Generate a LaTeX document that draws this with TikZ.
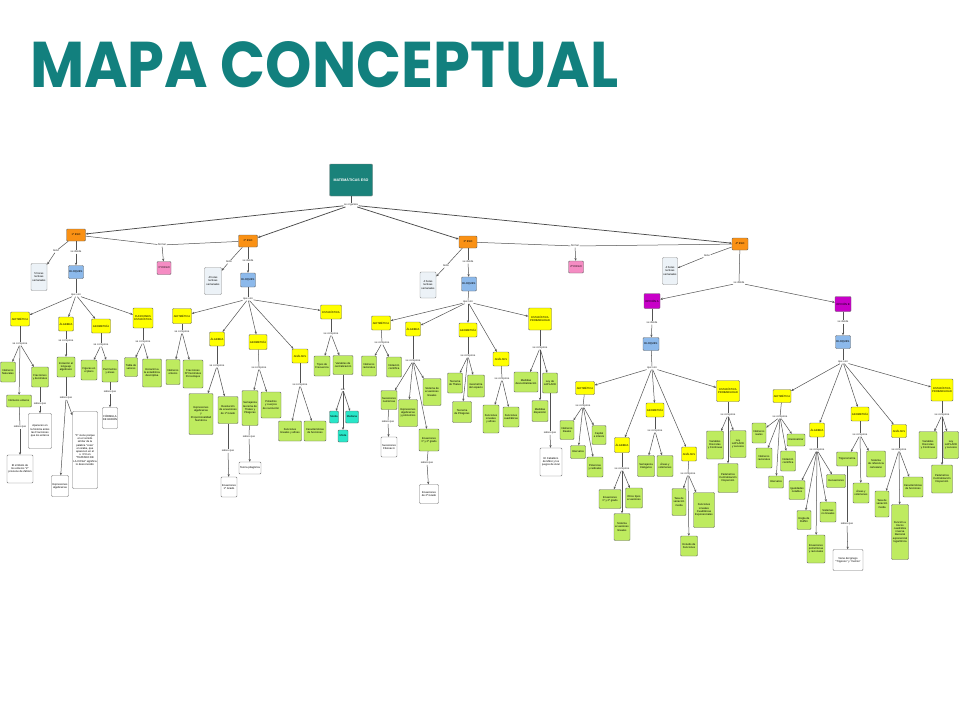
\documentclass[tikz,border=0pt]{standalone}
\usepackage{fontspec}
\usepackage{graphicx}
\setmainfont{Liberation Sans}
\newfontfamily\titlefont{Poppins}
\usetikzlibrary{arrows.meta}
\definecolor{titlecol}{RGB}{18,128,126}
\definecolor{rootcol}{RGB}{26,130,122}
\definecolor{orng}{RGB}{250,145,20}
\definecolor{pnk}{RGB}{245,140,195}
\definecolor{hrs}{RGB}{236,242,247}
\definecolor{blu}{RGB}{140,185,235}
\definecolor{yel}{RGB}{255,255,0}
\definecolor{grn}{RGB}{190,235,95}
\definecolor{cyn}{RGB}{40,230,200}
\definecolor{mag}{RGB}{200,0,200}
\tikzset{
  ln/.style={draw=black!68, line width=0.5pt},
  lnb/.style={line width=0.75pt, draw=black!70},
  ar/.style={ln, -{Stealth[length=2.6pt,width=2.2pt]}},
  lk/.style={font=\fontsize{2.7}{3.2}\selectfont, fill=white, inner sep=0.5pt, text=black!85},
  bx/.style={rounded corners=1pt, draw=black!60, line width=0.4pt, font=\fontsize{2.7}{3.2}\selectfont, align=center, inner sep=0.4pt},
  sz/.style 2 args={minimum width=#1pt, minimum height=#2pt},
  gr/.style={bx, fill=grn},
  ye/.style={bx, fill=yel},
  wh/.style={bx, fill=white, draw=black!55},
  hr/.style={bx, fill=hrs, draw=black!45},
  bl/.style={bx, fill=blu},
  es/.style={bx, fill=orng},
  pk/.style={bx, fill=pnk},
  cy/.style={bx, fill=cyn},
  op/.style={bx, fill=mag},
}
\newcommand\cmlink[4][]{\draw[ln,#1] (#2) -- (#3); \foreach \t in {#4} {\draw[ar,#1] (#3) -- (\t);}}
\begin{document}
\begin{tikzpicture}[x=1pt,y=-1pt]
\useasboundingbox (0,0) rectangle (960,720);
\fill[white] (0,0) rectangle (960,720);
% title
\node[anchor=south west, inner sep=0, text=titlecol] (title) at (30,88) {\resizebox{588pt}{46pt}{\titlefont\bfseries MAPA CONCEPTUAL}};
% root
\node[bx, fill=rootcol, draw=black!50, sz={43}{32}, text=white, font=\fontsize{3.6}{4}\selectfont\bfseries] (R) at (351,180) {MATEMÁTICAS ESO};
\node[lk] (Lorg) at (351,205) {se organiza};
\node[es, sz={19}{12}] (E1) at (76,235) {1º ESO};
\node[es, sz={19}{12}] (E2) at (248,241) {2º ESO};
\node[es, sz={18}{12}] (E3) at (468,242) {3º ESO};
\node[es, sz={16}{12}] (E4) at (740,244) {4º ESO};
\cmlink[lnb]{R}{Lorg}{E1,E2,E3,E4}
\node[lk] (Lf1) at (162,245) {formar};
\node[pk, sz={14}{13}] (C1) at (164,268) {1º CICLO};
\draw[ln] (E1) -- (Lf1); \draw[ln] (E2) -- (Lf1); \draw[ar] (Lf1) -- (C1);
\node[lk] (Lf2) at (575,246) {formar};
\node[pk, sz={15}{12}] (C2) at (576,267) {2º CICLO};
\draw[ln] (E3) -- (Lf2); \draw[ln] (E4) -- (Lf2); \draw[ar] (Lf2) -- (C2);

% ===== 1º ESO =====
\node[lk] (Lt1) at (56,251) {tiene};
\node[hr, sz={16}{27}] (H1) at (39,277) {5 horas\\lectivas\\semanales};
\node[lk] (Ld1) at (76,252) {se divide};
\node[bl, sz={15}{13}] (B1) at (76,272) {BLOQUES};
\cmlink{E1}{Lt1}{H1}
\cmlink{E1}{Ld1}{B1}
\node[lk] (Lq1) at (76,295) {que son};
\node[ye, sz={19}{14}] (A1) at (20,319) {ARITMÉTICA};
\node[ye, sz={15}{14}] (L1) at (66,324) {ÁLGEBRA};
\node[ye, sz={19}{14}] (G1) at (101,326) {GEOMETRÍA};
\node[ye, sz={20}{20}] (F1) at (143,318) {FUNCIONES\\ESTADÍSTICA};
\cmlink{B1}{Lq1}{A1,L1,G1,F1}
\node[lk] (A1c) at (20,344) {se compone};
\node[gr, sz={15}{20}] (a1) at (8,372) {Números\\Naturales};
\node[gr, sz={17}{20}] (a2) at (40,377) {Fracciones\\y decimales};
\node[gr, sz={25}{12}] (a3) at (19,401) {Números enteros};
\cmlink{A1}{A1c}{a1,a2,a3}
\node[lk] (a2s) at (40,404) {sabes que};
\node[wh, sz={23}{35}] (a2w) at (40,431) {Aparecen en\\la historia antes\\las Fracciones\\que los enteros};
\cmlink{a2}{a2s}{a2w}
\node[lk] (a3s) at (20,427) {sabes que};
\node[wh, sz={26}{28}] (a3w) at (20,469) {El símbolo de\\los enteros "Z"\\proviene de Zahlen};
\cmlink{a3}{a3s}{a3w}
\node[lk] (L1c) at (66,341) {se compone};
\node[gr, sz={18}{20}] (l1) at (66,367) {Iniciación al\\lenguaje\\algebraico};
\cmlink{L1}{L1c}{l1}
\node[lk] (l1s) at (66,398) {sabes que};
\node[wh, sz={17}{21}] (l1w1) at (60,486) {Expresiones\\algebraicas};
\node[wh, sz={25}{77}] (l1w2) at (85,450) {"X" viene porque\\en el sonido\\similar de la\\palabra "cosa"\\en árabe, que\\aparecen en el\\s. XVI en\\"TRATADO DE\\LA COSA" significa\\lo desconocido};
\cmlink{l1}{l1s}{l1w1,l1w2}
\node[lk] (G1c) at (101,345) {se compone};
\node[gr, sz={16}{20}] (g1) at (89,370) {Figuras en\\el plano};
\node[gr, sz={16}{22}] (g2) at (110,371) {Perímetros\\y áreas};
\cmlink{G1}{G1c}{g1,g2}
\node[lk] (g2s) at (110,392) {sabes que};
\node[wh, sz={15}{21}] (g2w) at (110,418) {FÓRMULA\\DE HERÓN};
\cmlink{g2}{g2s}{g2w}
\node[lk] (F1c) at (143,342) {se compone};
\node[gr, sz={13}{19}] (f1) at (131,367) {Tabla de\\valores};
\node[gr, sz={19}{28}] (f2) at (152,373) {Iniciación a\\la estadística\\descriptiva};
\cmlink{F1}{F1c}{f1,f2}

% ===== 2º ESO =====
\node[lk] (Lt2) at (229,262) {tiene};
\node[hr, sz={17}{27}] (H2) at (213,281) {4 horas\\lectivas\\semanales};
\node[lk] (Ld2) at (248,261) {se divide};
\node[bl, sz={15}{14}] (B2) at (248,280) {BLOQUES};
\cmlink{E2}{Lt2}{H2}
\cmlink{E2}{Ld2}{B2}
\node[lk] (Lq2) at (248,299) {que son};
\node[ye, sz={19}{15}] (A2) at (182,316) {ARITMÉTICA};
\node[ye, sz={15}{14}] (L2) at (217,339) {ÁLGEBRA};
\node[ye, sz={18}{15}] (G2) at (258,342) {GEOMETRÍA};
\node[ye, sz={16}{14}] (N2) at (300,356) {ANÁLISIS};
\node[ye, sz={21}{14}] (S2) at (331,312) {ESTADÍSTICA};
\cmlink{B2}{Lq2}{A2,L2,G2,N2,S2}
\node[lk] (A2c) at (182,332) {se compone};
\node[gr, sz={14}{25}] (a21) at (173,372) {Números\\enteros};
\node[gr, sz={20}{28}] (a22) at (193,374) {Fracciones\\Nº Decimales\\Porcentajes};
\cmlink{A2}{A2c}{a21,a22}
\node[lk] (L2c) at (217,366) {se compone};
\node[gr, sz={24}{41}] (l21) at (201,414) {Expresiones\\algebraicas\\y\\Proporcionalidad\\Numérica};
\node[gr, sz={20}{27}] (l22) at (228,410) {Resolución\\de ecuaciones\\de 1º Grado};
\cmlink{L2}{L2c}{l21,l22}
\node[lk] (l22s) at (228,451) {sabes que};
\node[wh, sz={16}{20}] (l22w) at (229,487) {Ecuaciones\\1º Grado};
\cmlink{l22}{l22s}{l22w}
\node[lk] (G2c) at (259,368) {se compone};
\node[gr, sz={16}{35}] (g21) at (250,408) {Semejanza\\teorema de\\Thales y\\Pitágoras};
\node[gr, sz={20}{26}] (g22) at (271,405) {Poliedros\\y cuerpos\\de revolución};
\cmlink{G2}{G2c}{g21,g22}
\node[lk] (g21s) at (249,437) {sabes que};
\node[wh, sz={22}{12}] (g21w) at (250,468) {Teoría pitagórica};
\cmlink{g21}{g21s}{g21w}
\node[lk] (N2c) at (300,385) {se compone};
\node[gr, sz={23}{20}] (n21) at (290,431) {Funciones\\lineales y afines};
\node[gr, sz={22}{20}] (n22) at (315,431) {Características\\de funciones};
\cmlink{N2}{N2c}{n21,n22}
\node[lk] (S2c) at (331,334) {se compone};
\node[gr, sz={16}{20}] (s21) at (322,366) {Tipos de\\Frecuencia};
\node[gr, sz={20}{19}] (s22) at (343,365) {Variables de\\centralización};
\cmlink{S2}{S2c}{s21,s22}
\node[lk] (s22s) at (343,390) {son};
\node[cy, sz={9}{12}] (m1) at (334,417) {Media};
\node[cy, sz={10}{12}] (m2) at (343,436) {Moda};
\node[cy, sz={13}{12}] (m3) at (352,417) {Mediana};
\cmlink{s22}{s22s}{m1,m2,m3}

% ===== 3º ESO =====
\node[lk] (Lt3) at (446,266) {tiene};
\node[hr, sz={16}{26}] (H3) at (428,285) {4 horas\\lectivas\\semanales};
\node[lk] (Ld3) at (468,262) {se divide};
\node[bl, sz={15}{14}] (B3) at (469,284) {BLOQUES};
\cmlink{E3}{Lt3}{H3}
\cmlink{E3}{Ld3}{B3}
\node[lk] (Lq3) at (468,302) {que son};
\node[ye, sz={19}{14}] (A3) at (381,323) {ARITMÉTICA};
\node[ye, sz={15}{14}] (L3) at (413,329) {ÁLGEBRA};
\node[ye, sz={18}{14}] (G3) at (468,330) {GEOMETRÍA};
\node[ye, sz={16}{14}] (N3) at (501,359) {ANÁLISIS};
\node[ye, sz={23}{22}] (S3) at (540,319) {ESTADÍSTICA\\PROBABILIDAD};
\cmlink{B3}{Lq3}{A3,L3,G3,N3,S3}
\node[lk] (A3c) at (382,343) {se compone};
\node[gr, sz={15}{20}] (a31) at (369,366) {Números\\racionales};
\node[gr, sz={15}{20}] (a32) at (394,367) {Notación\\científica};
\cmlink{A3}{A3c}{a31,a32}
\node[lk] (L3c) at (413,361) {se compone};
\node[gr, sz={16}{19}] (l31) at (389,400) {Sucesiones\\numéricas};
\node[gr, sz={19}{27}] (l32) at (408,413) {Expresiones\\algebraicas\\y polinomios};
\node[gr, sz={18}{27}] (l33) at (432,392) {Sistema de\\ecuaciones\\lineales};
\node[gr, sz={20}{22}] (l34) at (429,440) {Ecuaciones\\1º y 2º grado};
\cmlink{L3}{L3c}{l31,l32,l33,l34}
\node[lk] (l31s) at (388,422) {sabes que};
\node[wh, sz={16}{20}] (l31w) at (389,447) {Sucesiones\\Fibonacci};
\cmlink{l31}{l31s}{l31w}
\node[lk] (l34s) at (427,463) {sabes que};
\node[wh, sz={19}{19}] (l34w) at (429,494) {Ecuaciones\\de 2º Grado};
\cmlink{l34}{l34s}{l34w}
\node[lk] (G3c) at (468,356) {se compone};
\node[gr, sz={15}{20}] (g31) at (455,383) {Teorema\\de Thales};
\node[gr, sz={17}{22}] (g32) at (476,386) {Geometría\\del espacio};
\node[gr, sz={19}{21}] (g33) at (462,412) {Teorema\\de Pitágoras};
\cmlink{G3}{G3c}{g31,g32,g33}
\node[lk] (N3c) at (502,379) {se compone};
\node[gr, sz={16}{28}] (n31) at (491,419) {Funciones\\Lineales\\y afines};
\node[gr, sz={16}{20}] (n32) at (511,417) {Funciones\\cuadráticas};
\cmlink{N3}{N3c}{n31,n32}
\node[lk] (S3c) at (540,348) {se compone};
\node[gr, sz={24}{20}] (s31) at (526,382) {Medidas\\descentralización};
\node[gr, sz={15}{20}] (s32) at (550,383) {Ley de\\LAPLACE};
\node[gr, sz={16}{21}] (s33) at (540,411) {Medidas\\dispersión};
\cmlink{S3}{S3c}{s31,s32,s33}
\node[lk] (s32s) at (550,433) {sabes que};
\node[wh, sz={22}{28}] (s32w) at (551,462) {El Caballero\\de Méré y los\\juegos de Azar};
\cmlink{s32}{s32s}{s32w}

% ===== 4º ESO =====
\node[lk] (Lt4) at (707,256) {tiene};
\node[hr, sz={15}{27}] (H4) at (670,271) {4 horas\\lectivas\\semanales};
\cmlink{E4}{Lt4}{H4}
\node[lk] (Ld4) at (739,283) {se divide};
\node[op, sz={16}{15}] (OA) at (652,301) {OPCIÓN A};
\node[op, sz={16}{15}] (OB) at (843,304) {OPCIÓN B};
\cmlink{E4}{Ld4}{OA,OB}
% Opción A
\node[lk] (Lda) at (652,323) {se divide};
\node[bl, sz={16}{13}] (BA) at (651,344) {BLOQUES};
\cmlink{OA}{Lda}{BA}
\node[lk] (Lqa) at (652,368) {que son};
\node[ye, sz={19}{13}] (AA) at (585,388) {ARITMÉTICA};
\node[ye, sz={15}{15}] (LA) at (622,445) {ÁLGEBRA};
\node[ye, sz={18}{14}] (GA) at (655,410) {GEOMETRÍA};
\node[ye, sz={15}{14}] (NA) at (689,454) {ANÁLISIS};
\node[ye, sz={23}{21}] (SA) at (728,391) {ESTADÍSTICA\\PROBABILIDAD};
\cmlink{BA}{Lqa}{AA,LA,GA,NA,SA}
\node[lk] (AAc) at (583,406) {se compone};
\node[gr, sz={14}{19}] (aa1) at (567,430) {Números\\Reales};
\node[gr, sz={15}{13}] (aa2) at (578,452) {Intervalos};
\node[gr, sz={16}{20}] (aa3) at (595,467) {Potencias\\y radicales};
\node[gr, sz={14}{19}] (aa4) at (599,435) {Capital\\e interés};
\cmlink{AA}{AAc}{aa1,aa2,aa3,aa4}
\node[lk] (LAc) at (622,469) {se compone};
\node[gr, sz={22}{19}] (la1) at (610,499) {Ecuaciones\\1º y 2º grado};
\node[gr, sz={16}{27}] (la2) at (622,527) {Sistema\\ecuaciones\\lineales};
\node[gr, sz={17}{20}] (la3) at (634,498) {Otros tipos\\ecuaciones};
\cmlink{LA}{LAc}{la1,la2,la3}
\node[lk] (GAc) at (655,431) {se compone};
\node[gr, sz={17}{21}] (ga1) at (646,466) {Semejanza\\triángulos};
\node[gr, sz={16}{21}] (ga2) at (665,466) {Áreas y\\volúmenes};
\cmlink{GA}{GAc}{ga1,ga2}
\node[lk] (NAc) at (688,474) {se compone};
\node[gr, sz={14}{27}] (na1) at (679,502) {Tasa de\\variación\\media};
\node[gr, sz={21}{35}] (na2) at (704,510) {Funciones\\Lineales\\Cuadráticas\\Exponenciales};
\node[gr, sz={17}{20}] (na3) at (689,546) {Estudio de\\Funciones};
\cmlink{NA}{NAc}{na1,na2,na3}
\node[lk] (SAc) at (728,415) {se compone};
\node[gr, sz={17}{28}] (sa1) at (715,445) {Variables\\Discretas\\y Continuas};
\node[gr, sz={16}{27}] (sa2) at (738,444) {Ley\\LAPLACE\\y sucesos};
\node[gr, sz={20}{29}] (sa3) at (728,478) {Parámetros\\Centralización\\Dispersión};
\cmlink{SA}{SAc}{sa1,sa2,sa3}
% Opción B
\node[lk] (Ldb) at (843,322) {se divide};
\node[bl, sz={15}{13}] (BB) at (843,342) {BLOQUES};
\cmlink{OB}{Ldb}{BB}
\node[lk] (Lqb) at (843,362) {que son};
\node[ye, sz={18}{13}] (AB) at (782,396) {ARITMÉTICA};
\node[ye, sz={15}{14}] (LB) at (817,430) {ÁLGEBRA};
\node[ye, sz={18}{14}] (GB) at (860,414) {GEOMETRÍA};
\node[ye, sz={15}{13}] (NB) at (899,431) {ANÁLISIS};
\node[ye, sz={22}{22}] (SB) at (942,390) {ESTADÍSTICA\\PROBABILIDAD};
\cmlink{BB}{Lqb}{AB,LB,GB,NB,SB}
\node[lk] (ABc) at (780,417) {se compone};
\node[gr, sz={14}{20}] (ab1) at (759,433) {Números\\reales};
\node[gr, sz={16}{20}] (ab2) at (764,458) {Números\\racionales};
\node[gr, sz={15}{12}] (ab3) at (776,482) {Intervalos};
\node[gr, sz={15}{20}] (ab4) at (788,461) {Notación\\científica};
\node[gr, sz={18}{12}] (ab5) at (796,440) {Racionalizar};
\cmlink{AB}{ABc}{ab1,ab2,ab3,ab4,ab5}
\node[lk] (LBc) at (817,450) {se compone};
\node[gr, sz={16}{19}] (lb1) at (797,490) {Igualdades\\notables};
\node[gr, sz={14}{19}] (lb2) at (804,520) {Regla de\\Ruffini};
\node[gr, sz={18}{28}] (lb3) at (816,549) {Ecuaciones\\polinómicas\\y racionales};
\node[gr, sz={16}{20}] (lb4) at (828,512) {Sistemas\\no lineales};
\node[gr, sz={19}{13}] (lb5) at (836,481) {Inecuaciones};
\cmlink{LB}{LBc}{lb1,lb2,lb3,lb4,lb5}
\node[lk] (GBc) at (860,435) {se compone};
\node[gr, sz={21}{14}] (gb1) at (847,459) {Trigonometría};
\node[gr, sz={16}{20}] (gb2) at (861,493) {Áreas y\\volúmenes};
\node[gr, sz={19}{26}] (gb3) at (876,464) {Sistema\\de referencia\\cartesiano};
\cmlink{GB}{GBc}{gb1,gb2,gb3}
\node[lk] (gb1s) at (847,524) {sabes que};
\node[wh, sz={30}{21}] (gb1w) at (848,560) {Viene del griego\\"Trigonos" y "metros"};
\cmlink{gb1}{gb1s}{gb1w}
\node[lk] (NBc) at (899,450) {se compone};
\node[gr, sz={14}{26}] (nb1) at (882,504) {Tasa de\\variación\\media};
\node[gr, sz={17}{55}] (nb2) at (900,532) {Función a\\trozos\\cuadrática\\inversa\\Racional\\exponencial\\logarítmica};
\node[gr, sz={20}{20}] (nb3) at (913,487) {Características\\de funciones};
\cmlink{NB}{NBc}{nb1,nb2,nb3}
\node[lk] (SBc) at (942,415) {se compone};
\node[gr, sz={18}{27}] (sb1) at (928,445) {Variables\\Discretas\\y Continuas};
\node[gr, sz={15}{27}] (sb2) at (951,445) {Ley\\LAPLACE\\y sucesos};
\node[gr, sz={21}{28}] (sb3) at (942,479) {Parámetros\\Centralización\\Dispersión};
\cmlink{SB}{SBc}{sb1,sb2,sb3}
\end{tikzpicture}
\end{document}
